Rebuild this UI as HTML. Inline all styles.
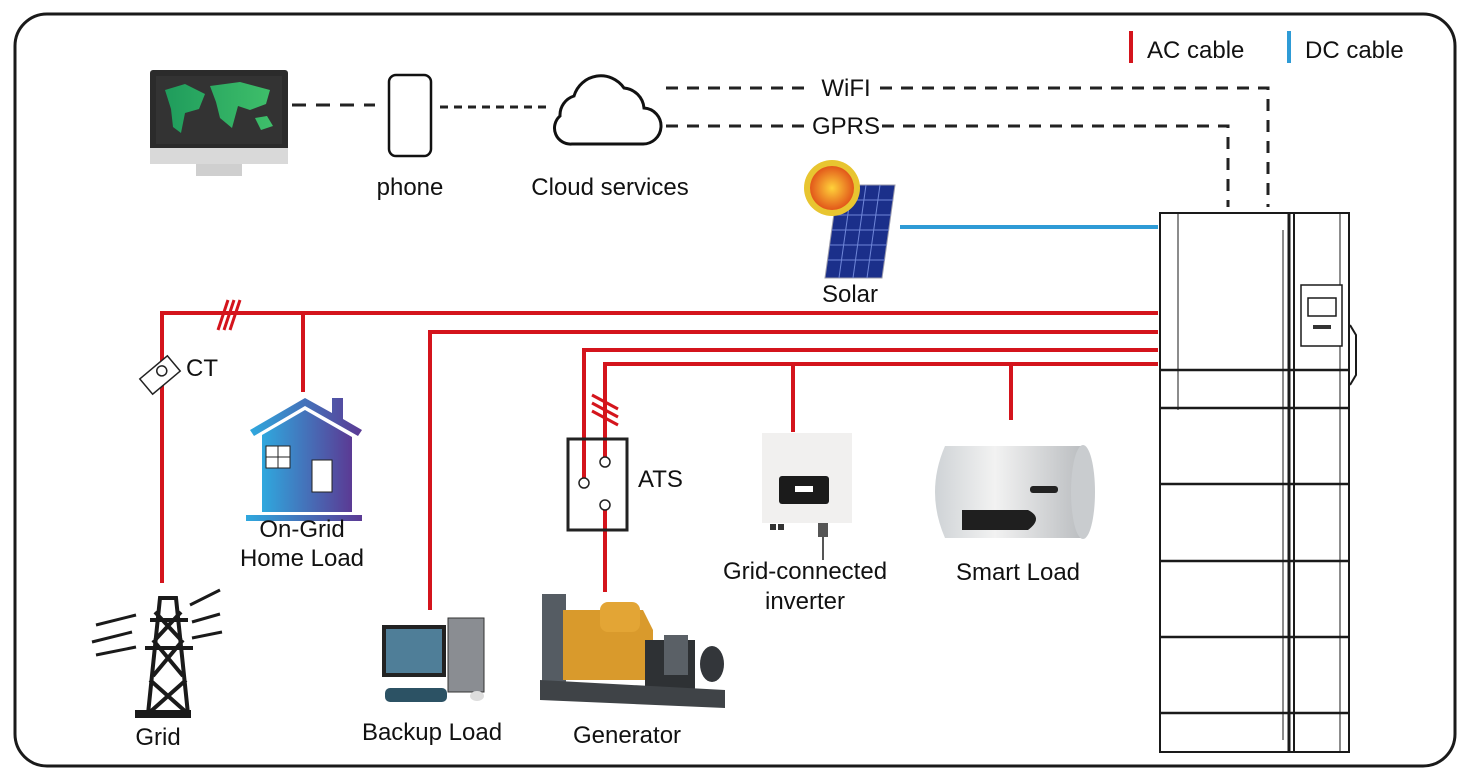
<!DOCTYPE html>
<html><head><meta charset="utf-8"><style>
body{margin:0;background:#fff;}
svg{display:block;}
text{font-family:"Liberation Sans",sans-serif;font-size:24px;fill:#111;}
</style></head><body>
<svg width="1470" height="780" viewBox="0 0 1470 780" xmlns="http://www.w3.org/2000/svg">
<defs>
<linearGradient id="hg" x1="0" x2="1"><stop offset="0" stop-color="#2fa8de"/><stop offset="1" stop-color="#5b3a94"/></linearGradient>
<linearGradient id="mg" x1="0" x2="1"><stop offset="0" stop-color="#1f9c5c"/><stop offset="1" stop-color="#3fbf6a"/></linearGradient>
<radialGradient id="sg"><stop offset="0" stop-color="#ffd23a"/><stop offset="1" stop-color="#e2571a"/></radialGradient>
<linearGradient id="wg" x1="0" x2="1"><stop offset="0" stop-color="#cfd3d6"/><stop offset="0.4" stop-color="#f2f2f2"/><stop offset="1" stop-color="#b9bcbf"/></linearGradient>
</defs>
<rect x="15" y="14" width="1440" height="752" rx="32" fill="#fff" stroke="#1a1a1a" stroke-width="3"/>
<!-- legend -->
<rect x="1129" y="31" width="4" height="32" fill="#d4141c"/>
<text x="1147" y="58">AC cable</text>
<rect x="1287" y="31" width="4" height="32" fill="#2e9bd6"/>
<text x="1305" y="58">DC cable</text>
<!-- monitor -->
<rect x="150" y="70" width="138" height="82" rx="3" fill="#2b2b2b"/>
<rect x="156" y="76" width="126" height="68" fill="#333"/>
<path d="M165 90 l20 -6 20 10 -6 15 -14 4 -4 20 -8 -6 -2 -18z M210 86 l30 -4 30 8 -4 14 -16 6 -12 -4 -6 22 -12 -10 -4 -16z M255 118 l12 -2 6 10 -12 4z" fill="url(#mg)"/>
<rect x="150" y="148" width="138" height="16" fill="#d9d9d9"/>
<rect x="196" y="164" width="46" height="12" fill="#cfcfcf"/>
<line x1="292" y1="105" x2="375" y2="105" stroke="#222" stroke-width="3" stroke-dasharray="14,10"/>
<!-- phone -->
<rect x="389" y="75" width="42" height="81" rx="7" fill="#fff" stroke="#111" stroke-width="2.5"/>
<line x1="440" y1="107" x2="552" y2="107" stroke="#222" stroke-width="3" stroke-dasharray="8,6"/>
<text x="410" y="195" text-anchor="middle">phone</text>
<!-- cloud -->
<path d="M572 144 h70 a18 18 0 0 0 2 -36 a22 22 0 0 0 -20 -20 a28 28 0 0 0 -50 8 a20 20 0 0 0 -14 20 a16 16 0 0 0 12 28z" fill="#fff" stroke="#111" stroke-width="3"/>
<text x="610" y="195" text-anchor="middle">Cloud services</text>
<!-- WiFi / GPRS -->
<path d="M666 88 H810 M880 88 H1268 V207" fill="none" stroke="#222" stroke-width="3" stroke-dasharray="12,9"/>
<path d="M666 126 H808 M882 126 H1228 V207" fill="none" stroke="#222" stroke-width="3" stroke-dasharray="12,9"/>
<text x="846" y="96" text-anchor="middle">WiFI</text>
<text x="846" y="134" text-anchor="middle">GPRS</text>
<!-- solar -->
<polygon points="838,185 895,185 882,278 825,278" fill="#1b2f8a" stroke="#99a" stroke-width="1"/>
<g stroke="#6f86d8" stroke-width="1">
<line x1="836" y1="200" x2="893" y2="200"/><line x1="834" y1="215" x2="891" y2="215"/><line x1="832" y1="230" x2="889" y2="230"/><line x1="830" y1="245" x2="887" y2="245"/><line x1="828" y1="260" x2="885" y2="260"/>
<line x1="852" y1="185" x2="839" y2="278"/><line x1="866" y1="185" x2="853" y2="278"/><line x1="880" y1="185" x2="867" y2="278"/>
</g>
<circle cx="832" cy="188" r="28" fill="#e8c530"/>
<circle cx="832" cy="188" r="22" fill="url(#sg)"/>
<text x="850" y="302" text-anchor="middle">Solar</text>
<line x1="900" y1="227" x2="1158" y2="227" stroke="#2e9bd6" stroke-width="4"/>
<!-- red lines -->
<g stroke="#d4141c" stroke-width="4" fill="none">
<path d="M1158 313 H162 V583"/>
<path d="M303 313 V392"/>
<path d="M1158 332 H430 V610"/>
<path d="M1158 350 H584 V478"/>
<path d="M1158 364 H605 V457"/>
<path d="M793 364 V432"/>
<path d="M1011 364 V420"/>
<path d="M605 510 V592"/>
<path d="M218 330 l10 -30 M224 330 l10 -30 M230 330 l10 -30" stroke-width="3"/>
<path d="M592 395 l26 14 M592 403 l26 14 M592 411 l26 14" stroke-width="3"/>
</g>
<!-- CT -->
<g transform="translate(160,375) rotate(-40)" fill="#fff" stroke="#222" stroke-width="1.5"><rect x="-18" y="-10" width="36" height="20"/><circle cx="4" cy="-2" r="5"/></g>
<text x="186" y="376">CT</text>
<!-- ATS -->
<rect x="568" y="439" width="59" height="91" fill="none" stroke="#222" stroke-width="3"/>
<circle cx="584" cy="483" r="5" fill="#fff" stroke="#222" stroke-width="1.5"/>
<circle cx="605" cy="462" r="5" fill="#fff" stroke="#222" stroke-width="1.5"/>
<circle cx="605" cy="505" r="5" fill="#fff" stroke="#222" stroke-width="1.5"/>
<text x="638" y="487">ATS</text>
<!-- house -->
<path d="M250 430 L305 398 L332 413 V398 H343 V419 L362 430 L358 436 L305 406 L254 436Z" fill="url(#hg)"/>
<path d="M262 435 L305 410 L352 437 V512 H262Z" fill="url(#hg)"/>
<rect x="266" y="446" width="24" height="22" fill="#fff" stroke="#222" stroke-width="1"/>
<path d="M278 446 V468 M266 457 H290" stroke="#222" stroke-width="1"/>
<rect x="312" y="460" width="20" height="32" fill="#fff" stroke="#222" stroke-width="1"/>
<rect x="246" y="515" width="116" height="6" fill="url(#hg)"/>
<text x="302" y="537" text-anchor="middle">On-Grid</text>
<text x="302" y="566" text-anchor="middle">Home Load</text>
<!-- tower -->
<g stroke="#1a1a1a" stroke-width="4" fill="none">
<path d="M148 714 L160 598 H176 L188 714"/>
<path d="M150 620 H188 M145 648 H193 M153 640 L183 676 M183 640 L153 676 M150 680 L186 712 M186 680 L150 712 M155 612 L181 640 M181 612 L155 640"/>
<path d="M96 625 l40 -10 M92 642 l40 -10 M96 655 l40 -8 M190 605 l30 -15 M192 622 l28 -8 M192 638 l30 -6" stroke-width="3"/>
</g>
<rect x="135" y="710" width="56" height="8" fill="#1a1a1a"/>
<text x="158" y="745" text-anchor="middle">Grid</text>
<!-- backup computer -->
<rect x="382" y="625" width="64" height="52" fill="#222"/>
<rect x="386" y="629" width="56" height="44" fill="#4f7e98"/>
<rect x="448" y="618" width="36" height="74" fill="#8a8d92" stroke="#333"/>
<rect x="385" y="688" width="62" height="14" rx="5" fill="#2c5264"/>
<ellipse cx="477" cy="696" rx="7" ry="5" fill="#ddd"/>
<text x="432" y="740" text-anchor="middle">Backup Load</text>
<!-- generator -->
<rect x="542" y="594" width="24" height="88" fill="#555c63"/>
<path d="M563 610 h80 l10 20 v50 h-90z" fill="#d99a2c"/>
<rect x="600" y="602" width="40" height="30" rx="8" fill="#e3a535"/>
<rect x="645" y="640" width="50" height="50" fill="#2e3134"/>
<rect x="664" y="635" width="24" height="40" fill="#5a6066"/>
<ellipse cx="712" cy="664" rx="12" ry="18" fill="#33363a"/>
<path d="M540 680 L725 690 V708 L540 700Z" fill="#3f4347"/>
<text x="627" y="743" text-anchor="middle">Generator</text>
<!-- grid inverter -->
<rect x="762" y="433" width="90" height="90" fill="#f1f0ef"/>
<rect x="779" y="476" width="50" height="28" rx="3" fill="#1b1b1b"/>
<rect x="795" y="486" width="18" height="6" fill="#fff"/>
<rect x="770" y="524" width="6" height="6" fill="#333"/><rect x="778" y="524" width="6" height="6" fill="#333"/><rect x="818" y="523" width="10" height="14" fill="#555"/>
<line x1="823" y1="537" x2="823" y2="560" stroke="#555" stroke-width="2"/>
<text x="805" y="579" text-anchor="middle">Grid-connected</text>
<text x="805" y="609" text-anchor="middle">inverter</text>
<!-- smart load -->
<path d="M945 446 H1085 V538 H945 Q925 492 945 446Z" fill="url(#wg)"/>
<ellipse cx="1083" cy="492" rx="12" ry="47" fill="#c9cccf"/>
<rect x="1030" y="486" width="28" height="7" rx="3" fill="#222"/>
<path d="M962 510 H1028 Q1044 518 1028 530 H962Z" fill="#1f1f1f"/>
<text x="1018" y="580" text-anchor="middle">Smart Load</text>
<!-- cabinet -->
<g fill="none" stroke="#1a1a1a">
<rect x="1160" y="213" width="189" height="539" stroke-width="2"/>
<line x1="1178" y1="213" x2="1178" y2="410" stroke-width="1"/>
<line x1="1289" y1="213" x2="1289" y2="752" stroke-width="3"/>
<line x1="1294" y1="213" x2="1294" y2="752" stroke-width="2"/>
<line x1="1283" y1="230" x2="1283" y2="740" stroke-width="1"/>
<line x1="1340" y1="213" x2="1340" y2="752" stroke-width="1"/>
<g stroke-width="2.5">
<line x1="1160" y1="370" x2="1349" y2="370"/><line x1="1160" y1="408" x2="1349" y2="408"/>
<line x1="1160" y1="484" x2="1349" y2="484"/><line x1="1160" y1="561" x2="1349" y2="561"/>
<line x1="1160" y1="637" x2="1349" y2="637"/><line x1="1160" y1="713" x2="1349" y2="713"/>
</g>
<rect x="1301" y="285" width="41" height="61" fill="#fff" stroke-width="1.5"/>
<rect x="1308" y="298" width="28" height="18" stroke-width="1.5"/>
<path d="M1350 325 l6 10 v40 l-6 10" stroke-width="2"/>
</g>
<rect x="1313" y="325" width="18" height="4" fill="#333"/>
</svg>
</body></html>
